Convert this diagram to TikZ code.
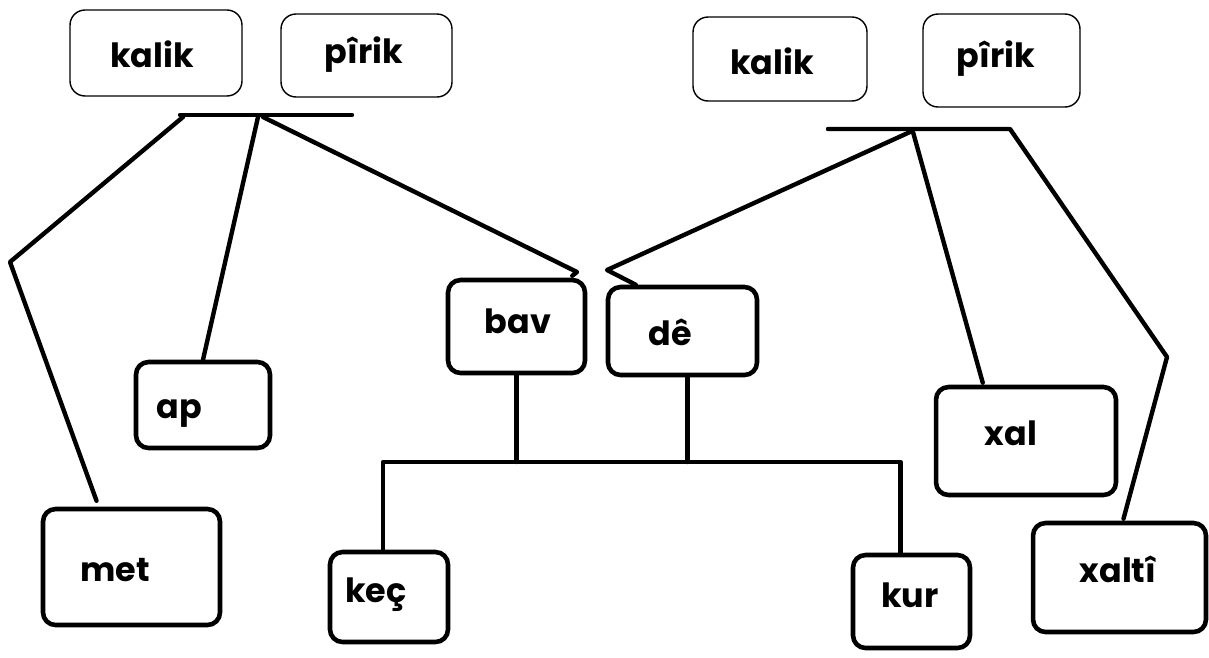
\documentclass[tikz,border=0pt]{standalone}
\usepackage{fontspec}
\setmainfont{Poppins}
\usetikzlibrary{positioning}

\begin{document}
\begin{tikzpicture}[x=0.02cm,y=-0.02cm,
  topbox/.style={rectangle,draw=black,line width=0.8pt,rounded corners=0.3cm,inner sep=0pt},
  kidbox/.style={rectangle,draw=black,line width=2.6pt,rounded corners=0.25cm,inner sep=0pt},
  word/.style={anchor=base,inner sep=0pt,font=\fontsize{19}{19}\selectfont\bfseries},
  link/.style={line width=2.5pt,line join=round,line cap=round}]
% \draw[help lines] (0,0) grid[step=50] (1209,657);
\useasboundingbox (0,0) rectangle (1209,657);
% parents
\node (kalikL) [topbox,minimum width=3.44cm,minimum height=1.72cm] at (156,53) {};
\node (kalikLT) [word] at (152,67) {kalik};
\node (pirikL) [topbox,minimum width=3.42cm,minimum height=1.66cm] at (366.5,55.5) {};
\node (pirikLT) [word] at (364,63) {pîrik};
\node (kalikR) [topbox,minimum width=3.48cm,minimum height=1.68cm] at (780,59) {};
\node (kalikRT) [word] at (772,74) {kalik};
\node (pirikR) [topbox,minimum width=3.14cm,minimum height=1.86cm] at (1001.5,60.5) {};
\node (pirikRT) [word] at (996,67) {pîrik};
%
% children
\node (met) [kidbox,minimum width=3.54cm,minimum height=2.32cm] at (131.5,567) {};
\node (metT) [word] at (115,581) {met};
\node (ap) [kidbox,minimum width=2.68cm,minimum height=1.72cm] at (203,405) {};
\node (apT) [word] at (179,418) {ap};
\node (bav) [kidbox,minimum width=2.74cm,minimum height=1.86cm] at (516.5,326.5) {};
\node (bavT) [word] at (518,333) {bav};
\node (de) [kidbox,minimum width=2.98cm,minimum height=1.76cm] at (682.5,331) {};
\node (deT) [word] at (670,345) {dê};
\node (xal) [kidbox,minimum width=3.6cm,minimum height=2.16cm] at (1026,441) {};
\node (xalT) [word] at (1011,445) {xal};
\node (xalti) [kidbox,minimum width=3.46cm,minimum height=2.18cm] at (1119.5,577.5) {};
\node (xaltiT) [word] at (1118,582) {xaltî};
\node (kec) [kidbox,minimum width=2.36cm,minimum height=1.8cm] at (389,597) {};
\node (kecT) [word] at (376,602) {keç};
\node (kur) [kidbox,minimum width=2.34cm,minimum height=1.86cm] at (911.5,601.5) {};
\node (kurT) [word] at (910,607) {kur};
%
\coordinate (barLa) at (180,115);
\coordinate (barLb) at (352,115);
\coordinate (bendMet) at (10,262);
\coordinate (bendBav) at (577,272);
\coordinate (barRa) at (828,129);
\coordinate (barRb) at (1010,129);
\coordinate (bendDe) at (607,270);
\coordinate (bendXalti) at (1167,357);
\coordinate (kids) at (600,462);
\coordinate (deFoot) at ([shift={(5,0)}]de.south);
%
\draw[link] (barLa) -- (barLb);
\draw[link] ([shift={(3,2)}]barLa) -- (bendMet) -- ([shift={(-35,-6)}]met.north);
\draw[link] ([shift={(78,2)}]barLa) -- (ap.north);
\draw[link] ([shift={(83,2)}]barLa) -- (bendBav) -- ([shift={(-15,-2)}]bav.north east);
\draw[link] (barRa) -- (barRb) -- (bendXalti) -- ([shift={(4,-2)}]xalti.north);
\draw[link] ([shift={(82,3)}]barRa) -- (bendDe) -- ([shift={(30,0)}]de.north west);
\draw[link] ([shift={(85,3)}]barRa) -- ([shift={(49,-2)}]xal.north west);
%
\draw[link] (bav.south) -- (bav.south |- kids);
\draw[link] (deFoot) -- (deFoot |- kids);
\draw[link] ([shift={(-6,0)}]kec.north) |- (kids) -| ([shift={(-11,0)}]kur.north);
\end{tikzpicture}
\end{document}
